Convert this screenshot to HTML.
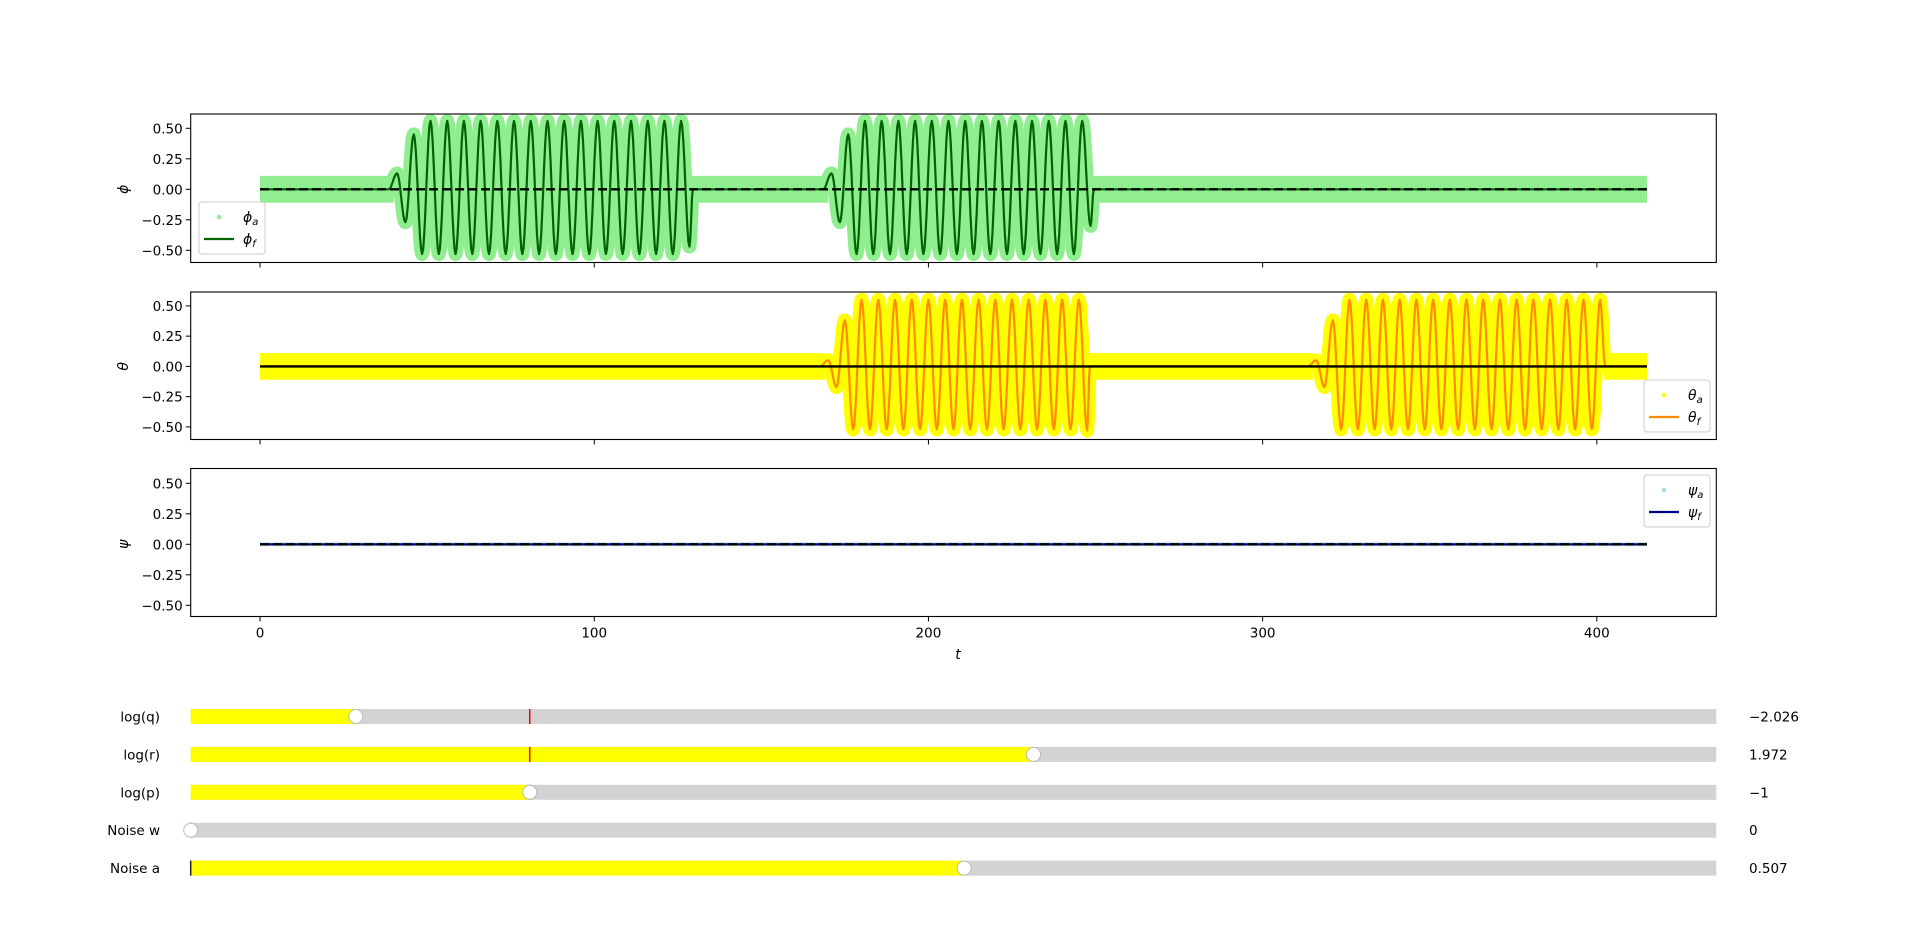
<!DOCTYPE html>
<html><head><meta charset="utf-8"><style>
html,body{margin:0;padding:0;background:#fff;}
svg{display:block;font-family:"DejaVu Sans","Liberation Sans",sans-serif;}
</style></head><body>
<svg id="fig" width="1907" height="948" viewBox="0 0 1907 948" xmlns="http://www.w3.org/2000/svg">
<defs>
<clipPath id="c0"><rect x="190.7" y="114" width="1525.6" height="148.5"/></clipPath>
<clipPath id="c1"><rect x="190.7" y="292" width="1525.6" height="147.5"/></clipPath>
<clipPath id="c2"><rect x="190.7" y="468.5" width="1525.6" height="148"/></clipPath>
</defs>
</svg>
<script>
// ---- data ----
const xTicks = [0, 100, 200, 300, 400];
const yTicks = [0.5, 0.25, 0, -0.25, -0.5];
const yTickLabels = ["0.50", "0.25", "0.00", "\u22120.25", "\u22120.50"];
const tEnd = 415;
const phiBurstStarts = [38.5, 168.5];
const phiBurstEnds = [129.5, 249.5];
const phiBurst1 = [0,0.13,-0.27,0.45,-0.53,0.56,-0.53,0.56,-0.53,0.56,-0.53,0.56,-0.53,0.56,-0.53,0.56,-0.53,0.56,-0.53,0.56,-0.53,0.56,-0.53,0.56,-0.53,0.56,-0.53,0.56,-0.53,0.56,-0.53,0.56,-0.53,0.56,-0.53,0.56,-0.47];
const phiBurst2 = [0,0.13,-0.27,0.45,-0.53,0.56,-0.53,0.56,-0.53,0.56,-0.53,0.56,-0.53,0.56,-0.53,0.56,-0.53,0.56,-0.53,0.56,-0.53,0.56,-0.53,0.56,-0.53,0.56,-0.53,0.56,-0.53,0.56,-0.53,0.56,-0.30];
const thetaBurstStarts = [167.5, 313.5];
const thetaBurstEnds = [248.3, 402.5];
const thetaBurst1 = [0,0.05,-0.17,0.38,-0.52,0.55,-0.52,0.55,-0.52,0.55,-0.52,0.55,-0.52,0.55,-0.52,0.55,-0.52,0.55,-0.52,0.55,-0.52,0.55,-0.52,0.55,-0.52,0.55,-0.52,0.55,-0.52,0.55,-0.52,0.55,-0.53];
const thetaBurst2 = [0,0.05,-0.17,0.38,-0.52,0.55,-0.52,0.55,-0.52,0.55,-0.52,0.55,-0.52,0.55,-0.52,0.55,-0.52,0.55,-0.52,0.55,-0.52,0.55,-0.52,0.55,-0.52,0.55,-0.52,0.55,-0.52,0.55,-0.52,0.55,-0.52,0.55,-0.52,0.55];
const burstStep = 2.5;
const noiseHalf = [0.11, 0.11, 0.015];
const sliderLabels = ["log(q)", "log(r)", "log(p)", "Noise w", "Noise a"];
const sliderValues = [-2.026, 1.972, -1, 0, 0.507];
const sliderValueText = ["\u22122.026", "1.972", "\u22121", "0", "0.507"];
const sliderMin = [-3, -3, -3, 0, 0];
const sliderMax = [6, 6, 6, 1, 1];
const sliderInit = [-1, -1, -1, 0, 0];

// ---- layout ----
const NS = "http://www.w3.org/2000/svg";
const svg = document.getElementById("fig");
const L = 190.7, R = 1716.3, xmin = -20.75, xmax = 435.75;
const X = t => L + (t - xmin) / (xmax - xmin) * (R - L);
const axes = [
  {top:114, bot:262.5, y0:189.3, k:122, clip:"c0", name:"phi"},
  {top:292, bot:439.5, y0:366.4, k:121, clip:"c1", name:"theta"},
  {top:468.5, bot:616.5, y0:544.3, k:122, clip:"c2", name:"psi"}
];
function el(tag, attrs, parent){
  const e = document.createElementNS(NS, tag);
  for (const k in attrs) e.setAttribute(k, attrs[k]);
  (parent || svg).appendChild(e);
  return e;
}
function burstPoints(start, end, vals){
  const pts = [[0,0],[start,0]];
  for (let i = 1; i < vals.length; i++){
    const ta = start + (i-1)*burstStep, tb = start + i*burstStep;
    const va = vals[i-1], vb = vals[i];
    for (let s = 1; s <= 8; s++){
      const f = (1 - Math.cos(Math.PI*s/8))/2;
      pts.push([ta + (tb-ta)*s/8, va + (vb-va)*f]);
    }
  }
  const tl = start + (vals.length-1)*burstStep, vl = vals[vals.length-1];
  for (let s = 1; s <= 4; s++){
    const f = (1 - Math.cos(Math.PI*s/4))/2;
    pts.push([tl + (end-tl)*s/4, vl*(1-f)]);
  }
  return pts;
}
function seriesPoints(starts, ends, bursts){
  let pts = [[0,0]];
  for (let b = 0; b < bursts.length; b++){
    pts = pts.concat(burstPoints(starts[b], ends[b], bursts[b]).slice(1));
  }
  pts.push([tEnd, 0]);
  return pts;
}
function toPath(pts, ax){
  return pts.map((p,i)=>(i?"L":"M")+X(p[0]).toFixed(1)+" "+(ax.y0 - p[1]*ax.k).toFixed(1)).join(" ");
}
function noiseSegments(starts, ends){
  const segs = []; let prev = 0;
  for (let i = 0; i < starts.length; i++){ segs.push([prev, starts[i]+1.5]); prev = ends[i]-0.5; }
  segs.push([prev, tEnd]);
  return segs;
}

const phiPts = seriesPoints(phiBurstStarts, phiBurstEnds, [phiBurst1, phiBurst2]);
const thetaPts = seriesPoints(thetaBurstStarts, thetaBurstEnds, [thetaBurst1, thetaBurst2]);
const psiPts = [[0,0],[tEnd,0]];
const cfg = [
  {pts:phiPts, segs:noiseSegments(phiBurstStarts, phiBurstEnds), a:"#90ee90", f:"#006400", ref:"dash", la:"\u03d5", ylab:"\u03d5"},
  {pts:thetaPts, segs:noiseSegments(thetaBurstStarts, thetaBurstEnds), a:"#ffff00", f:"#ff8c00", ref:"solid", la:"\u03b8", ylab:"\u03b8"},
  {pts:psiPts, segs:[[0,tEnd]], a:"#add8e6", f:"#00008b", ref:"dash", la:"\u03c8", ylab:"\u03c8"}
];

axes.forEach((ax, i) => {
  const c = cfg[i];
  const g = el("g", {"clip-path":"url(#"+ax.clip+")"});
  
  
  c.segs.forEach(s => {
    const r = el("rect", {x:X(s[0]), y:ax.y0 - noiseHalf[i]*ax.k, width:X(s[1])-X(s[0]), height:2*noiseHalf[i]*ax.k, fill:c.a}, g);
    
    
  });
  if (i < 2) {
    const band = el("path", {d:toPath(c.pts, ax), fill:"none", stroke:c.a, "stroke-width":14, "stroke-linejoin":"round"}, g);
    
    
  }
  const fl = el("path", {d:toPath(c.pts, ax), fill:"none", stroke:c.f, "stroke-width":2.2, "stroke-linejoin":"round"}, g);
  
  
  const ref = el("line", {x1:X(0), x2:X(tEnd), y1:ax.y0, y2:ax.y0, stroke:"#000", "stroke-width":2.4}, g);
  if (c.ref === "dash") ref.setAttribute("stroke-dasharray", "9 4");
  
  
  const fr = el("rect", {x:L, y:ax.top, width:R-L, height:ax.bot-ax.top, fill:"none", stroke:"#000", "stroke-width":1.1});
  
  
  yTicks.forEach((v, j) => {
    const y = ax.y0 - v*ax.k;
    const tk = el("line", {x1:L-5, x2:L, y1:y, y2:y, stroke:"#000", "stroke-width":1});
    
    
    const tx = el("text", {x:L-8, y:y+5, "text-anchor":"end", "font-size":13.5, fill:"#000"});
    tx.textContent = yTickLabels[j];
    
    
  });
  xTicks.forEach(v => {
    const tk = el("line", {x1:X(v), x2:X(v), y1:ax.bot, y2:ax.bot+5, stroke:"#000", "stroke-width":1});
    
    
    if (i === 2) {
      const tx = el("text", {x:X(v), y:ax.bot+21, "text-anchor":"middle", "font-size":13.5, fill:"#000"});
      tx.textContent = String(v);
      
      
    }
  });
  const yl = el("text", {x:0, y:0, "text-anchor":"middle", "font-size":14, "font-style":"italic", transform:"translate(128,"+ax.y0+") rotate(-90)"});
  yl.textContent = c.ylab;
  
  
});
const xl = el("text", {x:958, y:659, "text-anchor":"middle", "font-size":14, "font-style":"italic"});
xl.textContent = "t";



const legendPos = [[199,202],[1644,380],[1644,475]];
legendPos.forEach((p, i) => {
  const c = cfg[i];
  const g = el("g", {});
  
  
  el("rect", {x:p[0], y:p[1], width:66, height:52, rx:3, fill:"rgba(255,255,255,0.8)", stroke:"#ccc", "stroke-width":1}, g);
  const dot = el("circle", {cx:p[0]+20, cy:p[1]+15, r:2.3, fill:c.a}, g);
  
  
  const ln = el("line", {x1:p[0]+5, x2:p[0]+35, y1:p[1]+37, y2:p[1]+37, stroke:c.f, "stroke-width":2.2}, g);
  
  
  ["a","f"].forEach((s, j) => {
    const t = el("text", {x:p[0]+44, y:p[1]+20+j*22, "font-size":14, "font-style":"italic"}, g);
    t.textContent = c.la;
    const sub = document.createElementNS(NS, "tspan");
    sub.setAttribute("font-size", "10"); sub.setAttribute("dy", "3");
    sub.textContent = s;
    t.appendChild(sub);
    
    
  });
});

sliderLabels.forEach((lab, i) => {
  const cy = 716.5 + 37.9*i;
  const g = el("g", {});
  
  
  el("rect", {x:L, y:cy-7.5, width:R-L, height:15, fill:"#d3d3d3"}, g);
  const frac = (sliderValues[i]-sliderMin[i])/(sliderMax[i]-sliderMin[i]);
  const kx = L + frac*(R-L);
  el("rect", {x:L, y:cy-7.5, width:kx-L, height:15, fill:"#ffff00"}, g);
  const ix = L + (sliderInit[i]-sliderMin[i])/(sliderMax[i]-sliderMin[i])*(R-L);
  const mk = el("line", {x1:ix, x2:ix, y1:cy-7.5, y2:cy+7.5, stroke: i===4?"#222":"#ff0000", "stroke-width":1.5}, g);
  
  
  const kn = el("circle", {cx:kx, cy:cy, r:7, fill:"#fff", stroke:"#bbb", "stroke-width":1}, g);
  
  
  const lt = el("text", {x:160, y:cy+5, "text-anchor":"end", "font-size":13.5}, g);
  lt.textContent = lab;
  
  
  const vt = el("text", {x:1749, y:cy+5, "font-size":13.5}, g);
  vt.textContent = sliderValueText[i];
  
  
});
</script>
</body></html>
